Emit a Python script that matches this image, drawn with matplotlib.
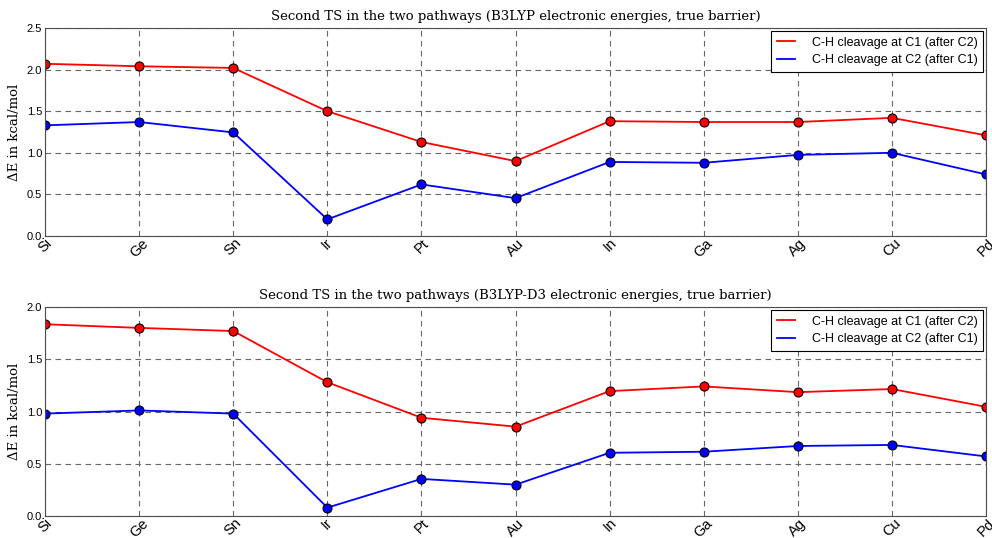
import numpy as np
import matplotlib.pyplot as plt

metals = ['Si', 'Ge', 'Sn', 'Ir', 'Pt', 'Au', 'In', 'Ga', 'Ag', 'Cu', 'Pd']

# B3LYP
b3_c1 = [2.07, 2.04, 2.02, 1.50, 1.13, 0.90, 1.38, 1.37, 1.37, 1.42, 1.21]
b3_c2 = [1.33, 1.37, 1.245, 0.20, 0.62, 0.455, 0.89, 0.88, 0.975, 1.00, 0.74]

# B3LYP-D3
d3_c1 = [1.835, 1.80, 1.77, 1.28, 0.94, 0.855, 1.195, 1.24, 1.185, 1.215, 1.045]
d3_c2 = [0.98, 1.01, 0.98, 0.08, 0.355, 0.30, 0.605, 0.615, 0.67, 0.68, 0.57]

titles = ['Second TS in the two pathways (B3LYP electronic energies, true barrier)',
          'Second TS in the two pathways (B3LYP-D3 electronic energies, true barrier)']
ylims = [2.5, 2.0]
labels = ['C-H cleavage at C1 (after C2)', 'C-H cleavage at C2 (after C1)']

serif = ['DejaVu Serif']
sans = ['Liberation Sans', 'DejaVu Sans']

fig = plt.figure(figsize=(9.92, 5.38), dpi=100)
axes = [fig.add_axes([0.0454, 1 - 236 / 538, 0.9486, 208 / 538]),
        fig.add_axes([0.0454, 1 - 516 / 538, 0.9486, 209 / 538])]

xs = np.arange(len(metals))
for ax, c1, c2, title, ymax in zip(axes, [b3_c1, d3_c1], [b3_c2, d3_c2], titles, ylims):
    ax.plot(xs, c1, color='red', lw=1.3, marker='o', ms=6.5,
            mec='black', mew=0.8, label=labels[0])
    ax.plot(xs, c2, color='blue', lw=1.3, marker='o', ms=6.5,
            mec='black', mew=0.8, label=labels[1])
    ax.set_xlim(0, len(metals) - 1)
    ax.set_ylim(0, ymax)
    ax.set_yticks(np.arange(0, ymax + 0.01, 0.5))
    ax.set_yticklabels(['%.1f' % v for v in np.arange(0, ymax + 0.01, 0.5)],
                       family=sans, fontsize=8)
    ax.set_xticks(xs)
    ax.set_xticklabels(metals, rotation=45, ha='center', va='top',
                       family=sans, fontsize=10.5)
    ax.tick_params(length=0, pad=2)
    ax.tick_params(axis='x', pad=0)
    ax.grid(True, color='0.4', ls=(0, (5, 4)), lw=0.8)
    for s in ax.spines.values():
        s.set_linewidth(0.8)
        s.set_color('0.3')
    ax.set_title(title, family=serif, fontsize=9.5, pad=6)
    ax.set_ylabel('ΔE in kcal/mol', family=serif, fontsize=9.5, labelpad=4)
    leg = ax.legend(loc='upper right', prop={'family': sans, 'size': 9},
                    fancybox=False, framealpha=1, edgecolor='black',
                    handlelength=1.5, handletextpad=1.3, labelspacing=0.45,
                    borderaxespad=0.25, borderpad=0.45)
    leg.get_frame().set_linewidth(0.8)
    for h in leg.legend_handles:
        h.set_marker('')

fig.savefig('out.png', dpi=100)
